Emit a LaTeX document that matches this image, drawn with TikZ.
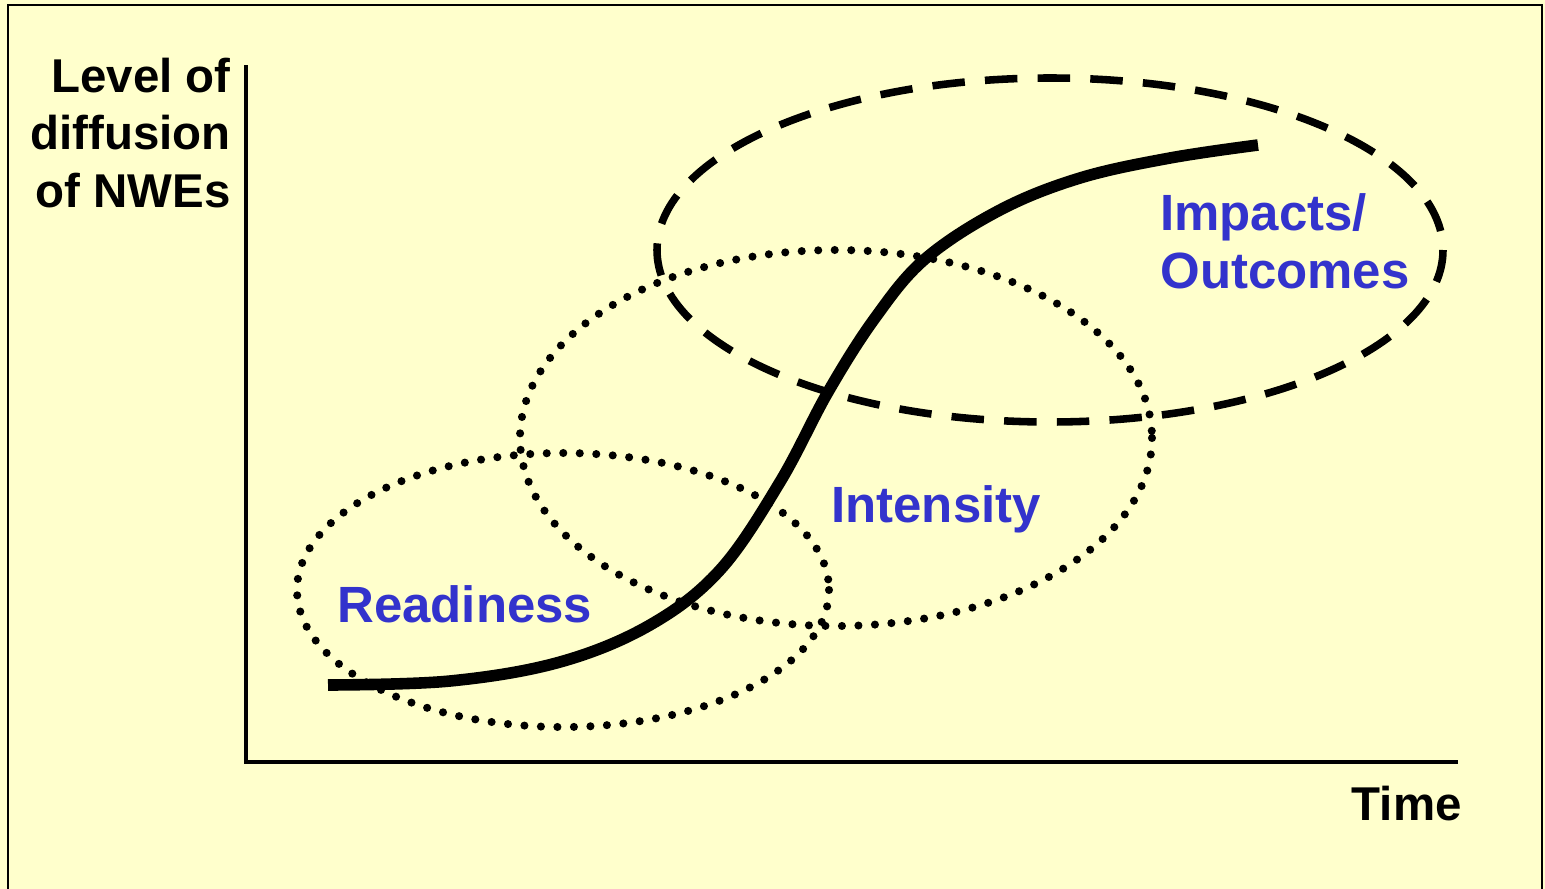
\documentclass[tikz,border=0pt]{standalone}
\usepackage{fontspec}
\setmainfont{Liberation Sans}
\usepackage{tikz}
\usetikzlibrary{positioning}
\definecolor{paper}{RGB}{255,255,204}
\definecolor{phase}{RGB}{51,51,204}
\tikzset{
dotted ring/.style={line width=4.6pt, line cap=round, dash pattern=on 0pt off 9.4pt},
dashed ring/.style={line width=4.3pt, dash pattern=on 18.5pt off 11.5pt},
phase label/.style={font=\bfseries\fontsize{29}{33}\selectfont, text=phase, inner sep=0pt},
axis label/.style={font=\bfseries\fontsize{27}{32.6}\selectfont, inner sep=0pt},
}

\begin{document}
\begin{tikzpicture}[x=0.02cm, y=-0.02cm]
   % sheet and frame
   \fill[paper] (0,0) rectangle (1545,889);
   \useasboundingbox (0,0) rectangle (1545,889);
   \draw[line width=1.4pt] (8,889) -- (8,5) -- (1542,5) -- (1542,889);

   % axes
   \coordinate (origin) at (246,762);
   \coordinate (ytop) at (246,65);
   \coordinate (xend) at (1458,762);
   \draw[line width=2.4pt] (ytop) -- (origin) -- (xend);
   \node[axis label, align=right, anchor=base east] (level) at (231,207) {Level of\\diffusion\\of NWEs};
   \node[axis label, anchor=base east] (time) at (1462,820) {Time};

   % phases
   \draw[dotted ring] (563,590) ellipse [x radius=266, y radius=137];
   \draw[dotted ring] (836,438) ellipse [x radius=316, y radius=188];
   \draw[dashed ring] (1050,250) ellipse [x radius=393, y radius=172];

   % diffusion curve
   \draw[line width=6.6pt] plot[smooth, tension=0.6] coordinates {
     (328,685) (450,681) (560,662) (650,625) (720,570) (780,482)
     (828,392) (875,318) (925,259) (1000,210) (1080,178) (1170,158) (1258,145)};

   \node[phase label, anchor=base west] (readiness) at (337,622) {Readiness};
   \node[phase label, anchor=base west] (intensity) at (831,522) {Intensity};
   \node[phase label, anchor=base west, align=left] (impacts) at (1160,288) {Impacts/\\Outcomes};
\end{tikzpicture}
\end{document}
